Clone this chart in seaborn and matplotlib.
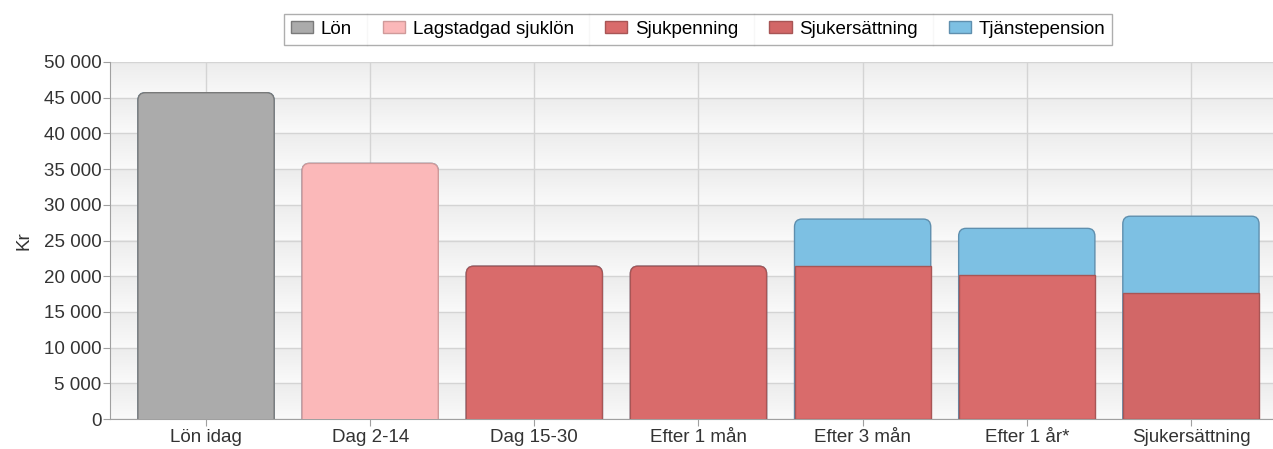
import numpy as np
import pandas as pd
import seaborn as sns
import matplotlib.pyplot as plt
from matplotlib.patches import FancyBboxPatch, Patch
from matplotlib.lines import Line2D
from matplotlib.ticker import FuncFormatter

# Values (kr per month)
categories = ['Lön idag', 'Dag 2-14', 'Dag 15-30', 'Efter 1 mån', 'Efter 3 mån', 'Efter 1 år*', 'Sjukersättning']
lon = [45700, 0, 0, 0, 0, 0, 0]
sjuklon = [0, 35800, 0, 0, 0, 0, 0]
sjukpenning = [0, 0, 21400, 21400, 21400, 20200, 0]
sjukersattning = [0, 0, 0, 0, 0, 0, 17600]
tjanstepension = [0, 0, 0, 0, 6600, 6500, 10800]

series = ['Lön', 'Lagstadgad sjuklön', 'Sjukpenning', 'Sjukersättning', 'Tjänstepension']
fills = ['#ababab', '#fbb8b9', '#d96b6b', '#d26767', '#7dc0e3']
edges = ['#7a7a7a', '#d09a9a', '#a85555', '#a85555', '#5f8fae']

plt.rcParams['font.family'] = ['Liberation Sans', 'DejaVu Sans']
FS = 13.5

base = np.array(lon) + np.array(sjuklon) + np.array(sjukpenning) + np.array(sjukersattning)
total = base + np.array(tjanstepension)

fig = plt.figure(figsize=(12.73, 4.49), dpi=100)
ax = fig.add_axes([110 / 1273, 30 / 449, 1163 / 1273, 357 / 449])
XL = (-0.585, 6.5)

# banded background: each 5000-band fades from light grey at the top to near white
band_cmap = sns.blend_palette(['#ececec', '#fafafa'], as_cmap=True)
grad = np.linspace(0, 1, 64).reshape(-1, 1)
for lo in range(0, 50000, 5000):
    ax.imshow(grad, cmap=band_cmap, aspect='auto', vmin=0, vmax=1,
              extent=(XL[0], XL[1], lo, lo + 5000), origin='upper', zorder=0)

# stacked bars: draw totals first, then the lower segments on top
sns.barplot(x=categories, y=total, color=fills[4], edgecolor=edges[4], linewidth=1,
            width=0.83, saturation=1, ax=ax, zorder=2)
for vals, fc, ec in zip([lon, sjuklon, sjukpenning, sjukersattning], fills[:4], edges[:4]):
    sns.barplot(x=categories, y=vals, color=fc, edgecolor=ec, linewidth=1,
                width=0.83, saturation=1, ax=ax, zorder=3)

# round the top corners of each visible bar top
pad_x, pad_y = 0.045, 1100
for p in list(ax.patches):
    h = p.get_height()
    if h <= 0:
        p.remove()
        continue
    i = int(round(p.get_x() + p.get_width() / 2))
    if abs(h - total[i]) < 1:
        x0, w = p.get_x(), p.get_width()
        r = FancyBboxPatch((x0 + pad_x, -3 * pad_y), w - 2 * pad_x, h + 2 * pad_y,
                           boxstyle=f'round,pad={pad_x},rounding_size={pad_x}',
                           mutation_aspect=pad_y / pad_x,
                           facecolor=p.get_facecolor(), edgecolor=p.get_edgecolor(),
                           linewidth=1, zorder=p.get_zorder())
        ax.add_patch(r)
        p.remove()

ax.set_xlim(*XL)
ax.set_ylim(0, 50000)
ax.set_yticks(np.arange(0, 50001, 5000))
ax.yaxis.set_major_formatter(FuncFormatter(lambda v, _: f'{int(v):,}'.replace(',', ' ')))
ax.set_ylabel('Kr', fontsize=FS, color='#333333', labelpad=8)
ax.set_xlabel('')

ax.grid(True, color='#d4d4d4', linewidth=1, zorder=1)
ax.set_axisbelow(True)
for s in ['top', 'right']:
    ax.spines[s].set_visible(False)
for s in ['left', 'bottom']:
    ax.spines[s].set_color('#a0a0a0')
ax.tick_params(axis='both', labelsize=FS, colors='#a0a0a0', labelcolor='#333333', length=5, pad=1)
ax.tick_params(axis='x', pad=2)

handles = [Patch(facecolor=fc, edgecolor=ec, label=lab) for lab, fc, ec in zip(series, fills, edges)]
leg = fig.legend(handles=handles, loc='center', bbox_to_anchor=(698 / 1273, 1 - 29.5 / 449), ncol=5,
                 fontsize=FS, frameon=True, fancybox=False, edgecolor='#9a9a9a',
                 handlelength=1.2, handleheight=0.6, columnspacing=1.65, handletextpad=0.4,
                 borderpad=0.35)
leg.get_frame().set_linewidth(1)

# thin separators between legend entries
fig.canvas.draw()
inv = fig.transFigure.inverted()
fb = leg.get_frame().get_window_extent()
texts = leg.get_texts()
hpatches = leg.get_patches()
for t, hp in zip(texts[:-1], hpatches[1:]):
    x_end = t.get_window_extent().x1
    x_start = hp.get_window_extent().x0
    xm = (x_end + x_start) / 2
    (fx0, fy0) = inv.transform((xm, fb.y0))
    (fx1, fy1) = inv.transform((xm, fb.y1))
    fig.add_artist(Line2D([fx0, fx1], [fy0, fy1], color='#dcdcdc', linewidth=1))

fig.savefig('out.png', dpi=100)
